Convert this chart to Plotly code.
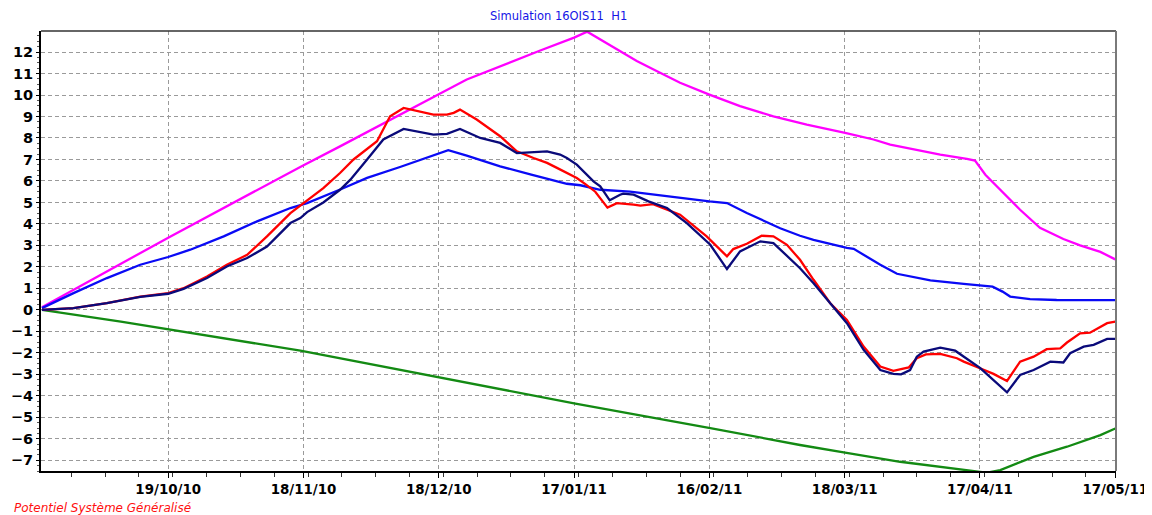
import pandas as pd
import plotly.graph_objects as go

START = pd.Timestamp("2010-09-21")

# Day offsets from START and values
pink_days = [0, 28, 57.7, 66.1, 88.1, 94.2, 110.5, 118, 120.9, 127.5, 131.9, 136.4, 141.5, 148.0, 154.8,
             162.2, 169.6, 178.1, 184.4, 188.1, 199.2, 205.1, 206.9, 209.2, 212.5, 216.9, 221.3, 223.6,
             226.5, 230.2, 234.7, 238]
pink_vals = [0.12, 3.36, 6.7, 7.61, 10.05, 10.72, 12.07, 12.67, 12.95, 12.12, 11.58, 11.11, 10.57, 10.02, 9.48,
             9.01, 8.62, 8.24, 7.93, 7.69, 7.23, 7.03, 6.95, 6.29, 5.6, 4.66, 3.82, 3.6,
             3.3, 3.0, 2.7, 2.35]

blue_days = [0, 7, 14.4, 21.8, 28, 32.9, 40.3, 47.7, 55.1, 58.8, 66, 72.1, 79.4, 85.4, 90.1, 94.2, 97.2,
             101.6, 108.5, 116.4, 119.4, 123.8, 130.4, 134.9, 141.5, 148, 151.9, 156.3, 163.7, 168.1, 171.1,
             178.5, 180, 185.9, 189.6, 197, 204.4, 208, 210.8, 213, 214.7, 219.1, 225, 238]
blue_vals = [0.08, 0.78, 1.48, 2.1, 2.46, 2.8, 3.42, 4.12, 4.74, 4.97, 5.59, 6.14, 6.65, 7.07, 7.43, 7.18, 6.98,
             6.68, 6.3, 5.87, 5.8, 5.59, 5.5, 5.38, 5.2, 5.05, 4.97, 4.51, 3.8, 3.45, 3.26,
             2.88, 2.84, 2.1, 1.68, 1.37, 1.21, 1.12, 1.08, 0.85, 0.62, 0.5, 0.46, 0.45]

red_days = [0, 7, 14.4, 21.8, 28, 31.4, 36.6, 41, 45.5, 49.9, 55.1, 57.3, 58.8, 62.4, 66.1, 69.1, 74.3, 77.2,
            80.2, 83.1, 86.8, 89.8, 91.3, 92.7, 96.4, 101.6, 105.3, 109, 112, 114.2, 118.6, 120.5, 122.7,
            125.4, 127.5, 131.2, 132.7, 135.5, 141.5, 147.4, 151.9, 153.3, 156.3, 159.6, 162.2, 165.2, 168.1,
            171.1, 174.8, 178.5, 182.2, 185.9, 188.8, 192.2, 194.0, 196, 199.2, 202.9, 204.4, 208, 211, 214,
            216.9, 219.9, 222.8, 225.8, 227.3, 230.2, 232.4, 236.2, 238]
red_vals = [0, 0.08, 0.31, 0.62, 0.78, 1.01, 1.55, 2.1, 2.56, 3.42, 4.5, 4.85, 5.1, 5.67, 6.37, 7.0, 7.85, 9.01,
            9.4, 9.25, 9.09, 9.09, 9.17, 9.32, 8.86, 8.08, 7.38, 7.07, 6.84, 6.61, 6.14, 5.85, 5.5,
            4.76, 4.97, 4.9, 4.85, 4.92, 4.43, 3.42, 2.49, 2.83, 3.08, 3.45, 3.42, 3.03, 2.33,
            1.4, 0.31, -0.47, -1.71, -2.64, -2.84, -2.68, -2.25, -2.07, -2.05, -2.25, -2.41, -2.72, -2.98, -3.31,
            -2.41, -2.18, -1.83, -1.79, -1.52, -1.09, -1.06, -0.62, -0.55]

navy_days = [0, 7, 14.4, 21.8, 28, 31.4, 36.6, 41, 45.5, 49.9, 55.1, 57.3, 58.8, 62.4, 66.1, 68.4, 72.1, 75.7,
             80.2, 83.1, 86.8, 89.8, 92.7, 97.2, 101.6, 105.3, 109, 112, 114.9, 116.4, 118.6, 120.1, 122.3,
             123.8, 125.9, 128.2, 128.9, 131.2, 134.5, 138.6, 143, 148.2, 151.9, 154.8, 159.3, 162.2, 163.7,
             168.1, 171.1, 178.5, 182.2, 185.9, 188.8, 190.5, 192.5, 194, 195.5, 199.2, 202.5, 208, 214,
             216.9, 219.9, 223.6, 226.5, 228, 231, 233.2, 236.2, 238]
navy_vals = [0, 0.08, 0.31, 0.6, 0.75, 0.98, 1.48, 2.02, 2.41, 2.95, 4.04, 4.27, 4.55, 5.0, 5.59, 6.06, 7.0, 7.93,
             8.42, 8.31, 8.16, 8.19, 8.42, 8.0, 7.77, 7.3, 7.34, 7.38, 7.23, 7.07, 6.76, 6.45, 5.98,
             5.75, 5.1, 5.36, 5.41, 5.36, 5.05, 4.74, 4.04, 3.03, 1.9, 2.72, 3.19, 3.11, 2.8,
             1.94, 1.24, -0.62, -1.86, -2.8, -2.98, -3.0, -2.8, -2.18, -1.94, -1.76, -1.9, -2.7, -3.84,
             -3.03, -2.8, -2.41, -2.45, -2.02, -1.71, -1.63, -1.35, -1.35]

green_days = [0, 17.5, 57.3, 88.3, 118, 148.2, 168.1, 178.1, 190.3, 208, 209.5, 212.5, 219.9, 227.3, 234.7, 238]
green_vals = [0, -0.55, -1.9, -3.15, -4.35, -5.5, -6.29, -6.65, -7.07, -7.54, -7.58, -7.46, -6.84, -6.37, -5.83, -5.52]

title_text = "Simulation 16OIS11  H1"
footer_text = "Potentiel Système Généralisé"


def to_dates(days):
    return START + pd.to_timedelta(days, unit="D")


series = [
    (pink_days, pink_vals, "#FF00FF"),
    (blue_days, blue_vals, "#0A0AF5"),
    (green_days, green_vals, "#138A13"),
    (red_days, red_vals, "#FF0000"),
    (navy_days, navy_vals, "#0A0A7A"),
]

fig = go.Figure()
for d, v, c in series:
    fig.add_trace(go.Scatter(x=to_dates(d), y=v, mode="lines",
                             line=dict(color=c, width=2.3), showlegend=False, hoverinfo="skip"))

DAY_MS = 86400000
x_tick_font = dict(family="DejaVu Sans", size=13.4, color="black", weight="bold")
y_tick_font = dict(family="DejaVu Sans", size=14.5, color="black", weight="bold")

# the page body adds an 8px margin (top/left), so the figure is sized/margined to compensate
fig.update_layout(
    width=1144, height=507,
    margin=dict(l=33, r=36, t=23, b=44, autoexpand=False),
    paper_bgcolor="white", plot_bgcolor="white",
    showlegend=False,
    xaxis=dict(
        type="date", automargin=False,
        range=["2010-09-20 19:00", "2011-05-17 04:00"],
        tickmode="linear", tick0="2010-10-19", dtick=30 * DAY_MS,
        tickformat="%d/%m/%y",
        tickfont=x_tick_font,
        showgrid=True, gridcolor="#9a9a9a", griddash="4px,3px", gridwidth=1,
        ticks="outside", ticklen=5, tickcolor="black", tickwidth=1,
        minor=dict(dtick=7.5 * DAY_MS, ticks="outside", ticklen=4, tickcolor="#333", showgrid=False),
        showline=True, linecolor="black", linewidth=2,
        zeroline=False, fixedrange=True,
    ),
    yaxis=dict(
        automargin=False,
        range=[-7.5, 12.98],
        tickmode="linear", tick0=0, dtick=1,
        tickfont=y_tick_font,
        showgrid=True, gridcolor="#9a9a9a", griddash="4px,3px", gridwidth=1,
        ticks="outside", ticklen=3, tickcolor="black",
        minor=dict(dtick=0.25, ticks="outside", ticklen=2, tickcolor="#555", showgrid=False),
        showline=True, linecolor="black", linewidth=2,
        zeroline=False, fixedrange=True,
    ),
    annotations=[
        dict(text=title_text, xref="paper", yref="paper", x=0.481, y=1.034,
             xanchor="center", yanchor="middle", showarrow=False,
             font=dict(family="DejaVu Sans", size=11.5, color="#1414E6")),
        dict(text=footer_text, xref="paper", yref="paper", x=-0.027, y=-0.084,
             xanchor="left", yanchor="middle", showarrow=False,
             font=dict(family="DejaVu Sans", size=12, color="#FF1010", style="italic")),
    ],
    shapes=[
        dict(type="line", xref="paper", yref="paper", x0=0, x1=1, y0=1, y1=1,
             line=dict(color="#333333", width=1.5)),
        dict(type="line", xref="paper", yref="paper", x0=1, x1=1, y0=0, y1=1,
             line=dict(color="#7a7a7a", width=2)),
        dict(type="line", xref="paper", yref="paper", x0=1.0316, x1=1.0316, y0=0.805, y1=0.976,
             line=dict(color="#cfcfcf", width=1)),
    ],
)

fig.write_html("out.html")
